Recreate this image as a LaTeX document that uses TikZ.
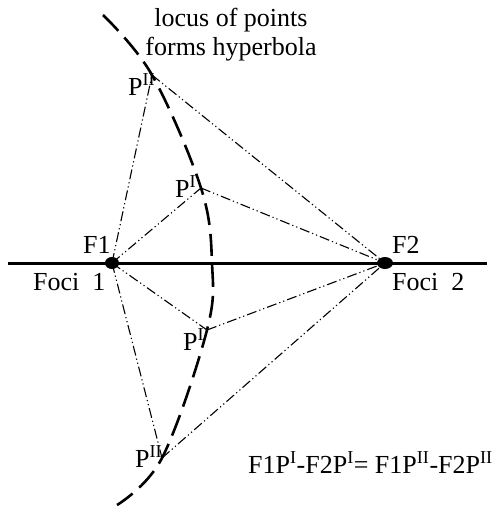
\documentclass[tikz,border=0pt]{standalone}
\usepackage{fontspec}
\setmainfont{Liberation Serif}
\begin{document}
\begin{tikzpicture}[x=1pt,y=-1pt,
  lbl/.style={inner sep=0pt,anchor=base west,font=\fontsize{26}{28}\selectfont},
  ray/.style={line width=1.1pt,dash pattern=on 10pt off 3pt on 1.2pt off 3pt on 1.2pt off 3pt},
  hyp/.style={line width=2.6pt,dash pattern=on 22pt off 9pt},
  axis/.style={line width=3pt},
  focus/.style={fill=black}]
\useasboundingbox (0,0) rectangle (497,506);
% points
\coordinate (F1) at (112,263);
\coordinate (F2) at (385,263);
\coordinate (PIIa) at (152,75);
\coordinate (PIa) at (201,188);
\coordinate (PIb) at (207,330);
\coordinate (PIIb) at (162,458);
\coordinate (L) at (8,263);
\coordinate (R) at (487,263);
% axis
\draw[axis] (L) -- (R);
% hyperbola branch
\draw[hyp] plot[smooth,tension=0.6] coordinates {(103,15) (152,75) (201,188) (212,263) (207,330) (162,458) (117,505)};
% rays
\draw[ray] (F1) -- (PIIa);
\draw[ray] (PIIa) -- (F2);
\draw[ray] (F1) -- (PIa);
\draw[ray] (PIa) -- (F2);
\draw[ray] (F1) -- (PIb);
\draw[ray] (PIb) -- (F2);
\draw[ray] (F1) -- (PIIb);
\draw[ray] (PIIb) -- (F2);
% foci
\fill[focus] (F1) ellipse [x radius=7pt,y radius=6pt];
\fill[focus] (F2) ellipse [x radius=8pt,y radius=6pt];
% labels
\node[lbl,anchor=base] (t1) at (231,27) {locus of points};
\node[lbl,anchor=base] (t2) at (231,55) {forms hyperbola};
\node[lbl] (lPIIa) at (128,95) {P\textsuperscript{II}};
\node[lbl] (lPIa) at (175,197) {P\textsuperscript{I}};
\node[lbl] (lF1) at (83,253) {F1};
\node[lbl] (lFoci1) at (33,290) {Foci\ \ 1};
\node[lbl] (lPIb) at (183,350) {P\textsuperscript{I}};
\node[lbl] (lF2) at (392,253) {F2};
\node[lbl] (lFoci2) at (392,290) {Foci\ \ 2};
\node[lbl] (lPIIb) at (135,467) {P\textsuperscript{II}};
\node[lbl] (eq) at (248,473) {F1P\textsuperscript{I}-F2P\textsuperscript{I}= F1P\textsuperscript{II}-F2P\textsuperscript{II}};
\end{tikzpicture}
\end{document}
